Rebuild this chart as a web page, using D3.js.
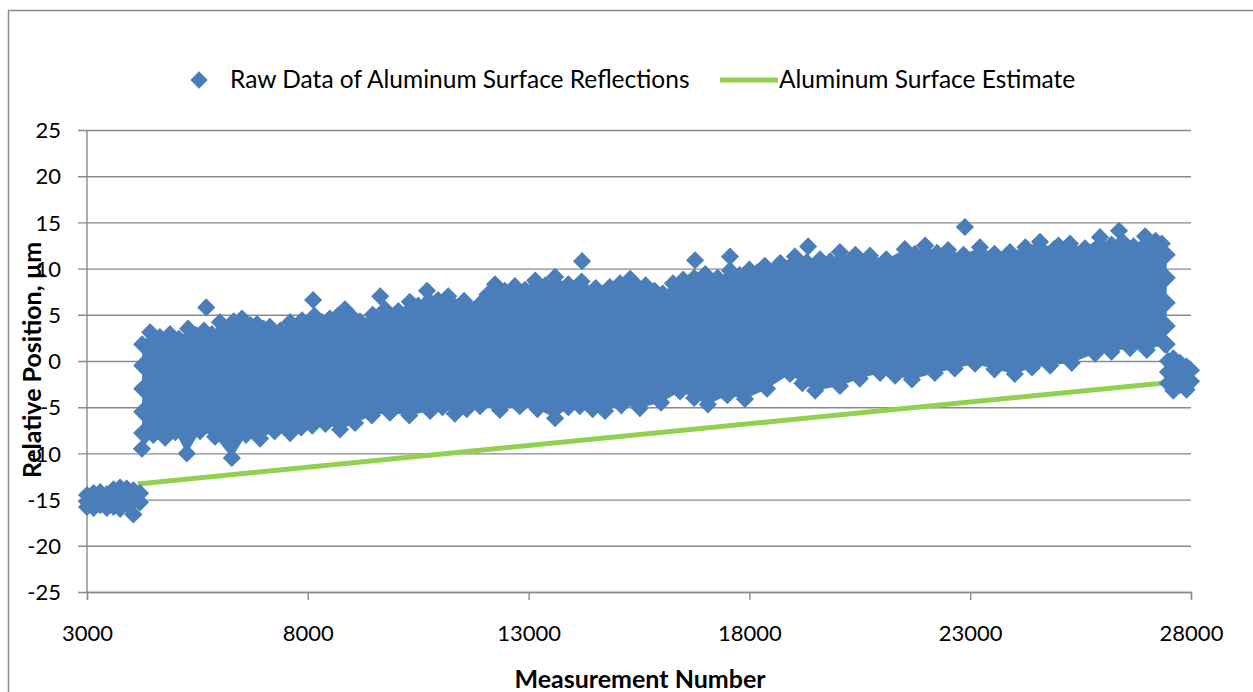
<!DOCTYPE html>
<html><head><meta charset="utf-8">
<script src="https://cdn.jsdelivr.net/npm/d3@7"></script>
<style>
html,body{margin:0;padding:0;background:#fff;}
svg{display:block;font-family:Lato,"Open Sans",sans-serif;}
</style></head>
<body>
<svg id="chart" width="1253" height="692"></svg>
<script>
// ---- Data ----
const xTicks = [3000, 8000, 13000, 18000, 23000, 28000];
const yTicks = [-25, -20, -15, -10, -5, 0, 5, 10, 15, 20, 25];
const seriesNames = ["Raw Data of Aluminum Surface Reflections", "Aluminum Surface Estimate"];

// Upper edge of the dense raw-data band (measurement, µm)
const bandUpper = [
  [4250,1.8],[4430,3.1],[4650,2.6],[4880,2.9],[5080,2.4],[5290,3.5],[5470,2.8],[5650,3.3],[5830,2.9],[6010,4.2],
  [6250,3.6],[6510,4.6],[6700,3.9],[6850,4.0],[7000,3.5],[7140,3.7],[7380,3.3],[7600,4.2],[7870,4.4],
  [8150,4.9],[8320,4.2],[8500,4.6],[8680,4.9],[8840,5.6],[9000,4.8],[9180,4.3],[9470,5.0],[9750,5.6],[10050,5.4],
  [10310,6.4],[10500,6.0],[10700,7.6],[10950,6.6],[11180,7.0],[11540,6.5],[11900,6.2],[12070,7.2],
  [12240,8.3],[12460,7.6],[12690,8.1],[12920,7.7],[13150,8.7],[13380,8.2],[13600,9.1],[13900,8.3],[14200,8.6],
  [14520,7.9],[14840,8.0],[15070,8.4],[15300,8.9],[15480,8.0],[15650,8.2],[15850,7.6],[16040,7.3],
  [16270,8.4],[16500,8.8],[16750,9.0],[17000,9.4],[17280,9.0],[17560,9.8],[17780,9.3],[18000,9.9],[18180,9.6],
  [18350,10.3],[18700,10.6],[19030,11.3],[19300,10.7],[19600,11.0],[19830,10.8],[20050,11.8],[20400,11.1],[20730,11.4],
  [21100,11.0],[21520,12.1],[21750,11.6],[21980,12.5],[22250,11.7],[22500,12.0],[22850,11.5],[23220,12.3],[23550,11.6],
  [23900,11.8],[24250,12.3],[24580,12.9],[24900,12.1],[25260,12.7],[25600,12.2],[25940,13.4],[26200,12.6],
  [26450,12.9],[26700,12.4],[26960,13.5],[27150,12.8],[27340,12.7],[27450,11.5]
];
// Lower edge of the dense raw-data band
const bandLower = [
  [4245,-9.5],[4500,-8.0],[4770,-8.3],[5000,-7.7],[5260,-10.0],[5560,-7.6],[5900,-8.2],[6280,-10.5],[6600,-8.0],
  [6920,-8.4],[7250,-7.6],[7600,-7.8],[7850,-7.2],[8100,-7.0],[8400,-6.8],[8730,-7.4],
  [9070,-6.7],[9450,-5.9],[9860,-5.6],[10300,-5.9],[10770,-5.4],[11050,-5.0],[11330,-5.7],[11600,-5.2],[11900,-4.9],
  [12350,-5.3],[12800,-4.9],[13200,-5.2],[13600,-6.2],[13900,-5.0],[14160,-4.9],
  [14450,-5.2],[14730,-5.4],[15100,-4.8],[15520,-5.1],[16000,-4.5],[16430,-3.3],[16750,-4.0],[17060,-4.7],[17500,-3.7],
  [17900,-4.1],[18400,-3.0],[18920,-1.4],[19200,-2.4],
  [19490,-3.2],[20050,-2.7],[20500,-1.9],[20960,-1.3],[21300,-1.6],[21680,-2.0],[22200,-1.3],[22650,-0.8],[23110,-0.3],
  [23550,-0.9],[24010,-1.4],[24400,-0.7],
  [24810,-0.5],[25300,-0.2],[25830,0.8],[26200,1.0],[26620,1.4],[27000,1.2],[27410,1.8],[27450,1.8]
];
// Points filling the left and right borders of the band
const bandSides = [
  [4250,-0.5],[4250,-3.0],[4250,-5.5],[4250,-7.8],[27450,9.0],[27450,6.3],[27450,3.8]
];
// Isolated raw-data points standing out of the band
const rawOutliers = [
  [5700,5.8],[8120,6.6],[9640,7.0],[14210,10.8],[16770,10.9],[17560,11.3],[19330,12.4],[22880,14.5],
  [26370,14.1],[20400,11.5],[25000,12.5],[27200,13.0],[6320,4.3],[13200,8.4]
];
// Cluster before the part (left) and after the part (right)
const rawStart = [
  [3000,-14.5],[3000,-15.2],[3000,-15.8],[3150,-14.3],[3150,-15.0],[3150,-15.9],[3300,-14.2],[3300,-15.6],
  [3450,-14.4],[3450,-15.1],[3450,-15.9],[3600,-13.9],[3600,-14.8],[3600,-15.8],[3750,-13.7],[3750,-15.2],
  [3750,-16.0],[3900,-13.8],[3900,-14.6],[3900,-15.5],[4050,-14.0],[4050,-15.2],[4050,-16.6],[4200,-14.3],[4200,-15.3]
];
const rawEnd = [
  [27480,0.0],[27480,-1.2],[27480,-2.4],[27600,0.3],[27600,-0.8],[27600,-2.0],[27600,-3.2],
  [27750,-0.2],[27750,-1.4],[27750,-2.6],[27900,-0.6],[27900,-1.8],[27900,-3.1],[28000,-1.0],[28000,-2.2]
];
// Aluminum surface estimate (straight line)
const estimate = [[4150,-13.3],[27450,-2.35]];

// ---- Layout ----
const svg = d3.select("#chart");
const plot = {left: 87, right: 1191, top: 130, bottom: 592};
const x = d3.scaleLinear().domain([3000, 28000]).range([plot.left, plot.right]);
const y = d3.scaleLinear().domain([-25, 25]).range([plot.bottom, plot.top]);
const blue = "#4A7EBB", green = "#92D050", gridC = "#8A8A8A";
const fmt = d => String(d);

// outer chart border
svg.append("rect").attr("x", 8.5).attr("y", 10.5).attr("width", 1270).attr("height", 700)
  .attr("fill", "none").attr("stroke", "#8C8C8C").attr("stroke-width", 1.5);

// horizontal gridlines + y axis
const yAxis = d3.axisLeft(y).tickValues(yTicks).tickSize(-(plot.right - plot.left)).tickPadding(26)
  .tickFormat(fmt);
const gy = svg.append("g").attr("transform", `translate(${plot.left},0)`).call(yAxis);
gy.select(".domain").remove();
gy.selectAll(".tick line").attr("stroke", gridC).attr("stroke-width", 1.4).attr("x1", -9);
gy.selectAll(".tick text").attr("fill", "#000").attr("font-size", 22).attr("font-family", "Lato, sans-serif").attr("dy", "0.35em");
// vertical axis line
svg.append("line").attr("x1", plot.left).attr("x2", plot.left).attr("y1", plot.top).attr("y2", plot.bottom)
  .attr("stroke", gridC).attr("stroke-width", 1.4);

// x axis
const xAxis = d3.axisBottom(x).tickValues(xTicks).tickSize(8).tickPadding(25).tickFormat(fmt);
const gx = svg.append("g").attr("transform", `translate(0,${plot.bottom})`).call(xAxis);
gx.select(".domain").attr("stroke", gridC).attr("stroke-width", 1.4);
gx.selectAll(".tick line").attr("stroke", gridC).attr("stroke-width", 1.4);
gx.selectAll(".tick text").attr("fill", "#000").attr("font-size", 22).attr("font-family", "Lato, sans-serif");

// axis titles
svg.append("text").attr("x", 640).attr("y", 688).attr("text-anchor", "middle")
  .attr("font-weight", "bold").attr("font-size", 25).text("Measurement Number");
svg.append("text").attr("transform", "translate(41,360) rotate(-90)").attr("text-anchor", "middle")
  .attr("font-weight", "bold").attr("font-size", 25).text("Relative Position, µm");

// estimate line (under markers)
const line = d3.line().x(d => x(d[0])).y(d => y(d[1]));
svg.append("path").datum(estimate).attr("d", line).attr("fill", "none")
  .attr("stroke", green).attr("stroke-width", 5);

// dense band body
const bandPoly = bandUpper.concat(bandLower.slice().reverse());
svg.append("path").datum(bandPoly).attr("d", d => line(d) + "Z").attr("fill", blue);

// raw-data diamond markers
const diamond = d3.symbol().type(d3.symbolSquare).size(165);
const allRaw = bandUpper.concat(bandLower, bandSides, rawOutliers, rawStart, rawEnd);
svg.append("g").selectAll("path").data(allRaw).join("path")
  .attr("d", diamond)
  .attr("transform", d => `translate(${x(d[0])},${y(d[1])}) rotate(45)`)
  .attr("fill", blue);

// legend
const lg = svg.append("g");
lg.append("path").attr("d", d3.symbol().type(d3.symbolSquare).size(150)())
  .attr("transform", "translate(199,80) rotate(45)").attr("fill", blue);
lg.append("text").attr("x", 230).attr("y", 88).attr("font-size", 24.5).text(seriesNames[0]);
lg.append("line").attr("x1", 720).attr("x2", 778).attr("y1", 80).attr("y2", 80)
  .attr("stroke", green).attr("stroke-width", 5);
lg.append("text").attr("x", 779).attr("y", 88).attr("font-size", 24.5).text(seriesNames[1]);
</script>
</body></html>
